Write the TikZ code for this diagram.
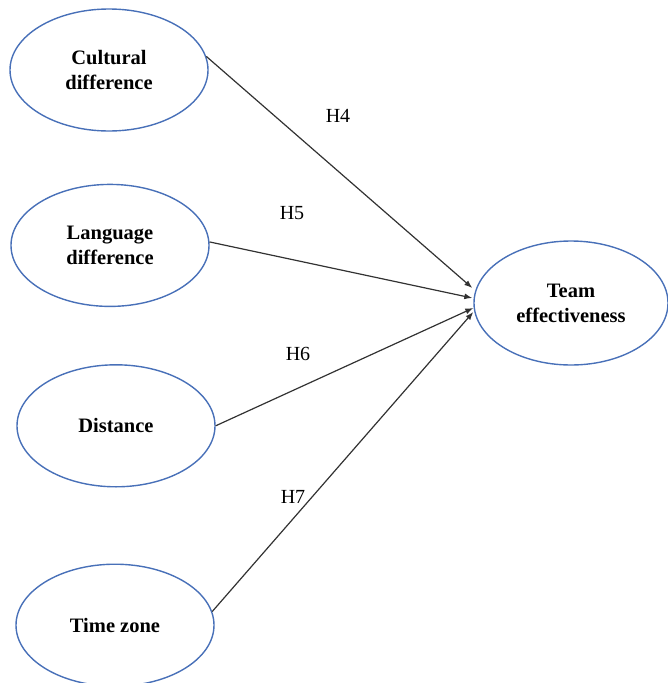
\documentclass[tikz,border=0pt]{standalone}
\usepackage{fontspec}
\setmainfont{Liberation Serif}
\usepackage{xcolor}
\usepackage{tikz}
\usetikzlibrary{arrows.meta,positioning,shapes.geometric}
\definecolor{ovalblue}{RGB}{72,112,184}
\definecolor{linegray}{RGB}{50,50,50}
\tikzset{
	construct/.style={
		ellipse,
		draw=ovalblue,
		line width=1.4pt,
		align=center,
		inner sep=0pt,
		minimum width=198pt,
		minimum height=122pt,
		font=\fontsize{20.5}{25}\selectfont\bfseries
	},
	line/.style={-{Latex[length=8pt,width=6pt]},draw=linegray,line width=1.2pt},
	lbl/.style={font=\fontsize{20}{24}\selectfont,inner sep=0pt}
}

\begin{document}
\begin{tikzpicture}[x=1pt,y=-1pt]
		\useasboundingbox (0,0) rectangle (668,683);
		\node[construct] (cult) at (109,70) {Cultural\\difference};
		\node[construct,below=52pt of cult,xshift=1pt] (lang) {Language\\difference};
		\node[construct,below=57pt of lang,xshift=6pt] (dist) {Distance};
		\node[construct,below=76pt of dist,xshift=-1pt] (time) {Time zone};
		\node[construct,minimum width=194pt,minimum height=124pt] (team) at (571,303) {Team\\effectiveness};

		\draw[line] (cult.8) -- ([yshift=15pt,xshift=-1pt]team.west);
		\draw[line] (lang.2) -- ([yshift=5pt,xshift=-1pt]team.west);
		\draw[line] (dist.east) -- ([yshift=-5pt]team.west);
		\draw[line] (time.8) -- ([yshift=-9pt]team.west);

		\node[lbl] (h4) at (338,116) {H4};
		\node[lbl] (h5) at (292,213) {H5};
		\node[lbl] (h6) at (298,354) {H6};
		\node[lbl] (h7) at (293,497) {H7};
	\end{tikzpicture}
\end{document}
